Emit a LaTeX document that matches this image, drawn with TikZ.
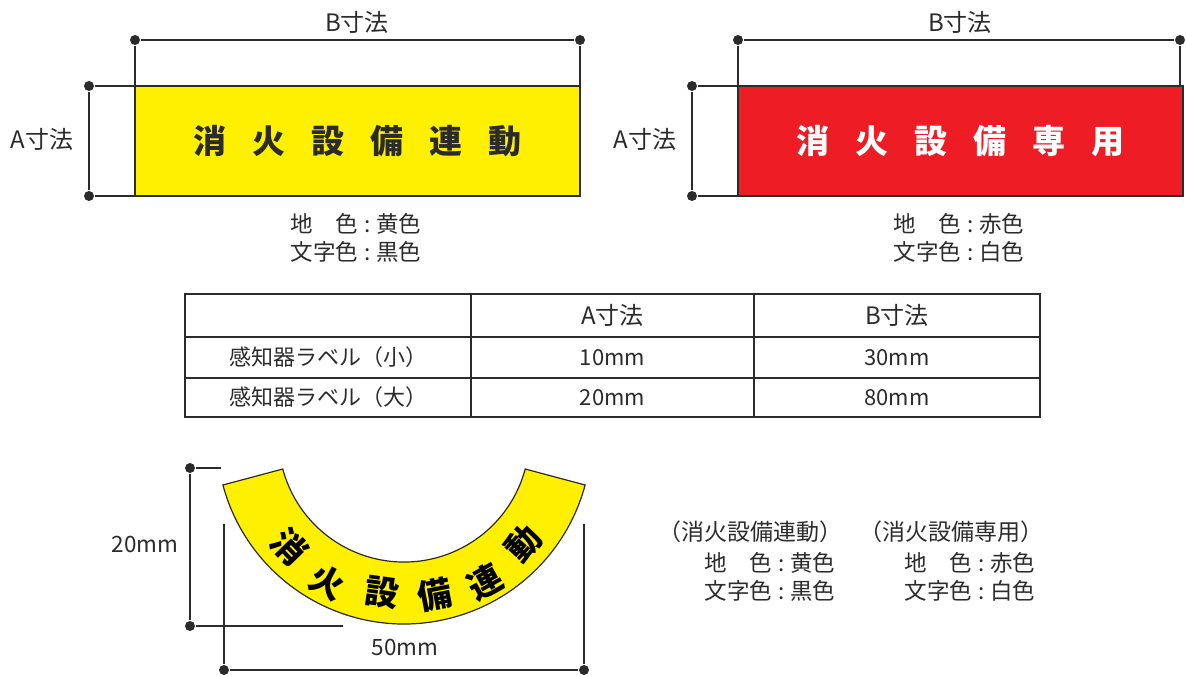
\documentclass[tikz,border=0pt]{standalone}
\usepackage{fontspec}
\setmainfont{Noto Sans CJK JP}
\usetikzlibrary{positioning}
\definecolor{signyellow}{HTML}{FFF000}
\definecolor{signred}{HTML}{EE1C25}
\definecolor{inkgray}{HTML}{2B2B2B}
\tikzset{
    dimdot/.style={circle, fill=inkgray, inner sep=0pt, minimum size=10pt},
    dimtext/.style={font=\fontsize{24}{28}\selectfont, text=inkgray, inner sep=0pt},
    mmtext/.style={font=\fontsize{22.5}{26}\selectfont, text=inkgray, inner sep=0pt},
    notetext/.style={font=\fontsize{22.5}{28}\selectfont, text=inkgray, inner sep=0pt, align=left, anchor=north west},
    titletext/.style={font=\fontsize{23}{26}\selectfont, text=inkgray, inner sep=0pt},
    signbox/.style={draw=inkgray, line width=1.6pt, minimum width=445pt, minimum height=110pt, inner sep=0pt, outer sep=0pt, font=\fontsize{33}{36}\selectfont\bfseries},
    tablecell/.style={draw=inkgray, line width=1.4pt, inner sep=0pt, outer sep=0pt, font=\fontsize{22}{26}\selectfont, text=inkgray},
    arcchar/.style={font=\fontsize{34}{36}\selectfont\bfseries, text=black, inner sep=0pt}
}
\newcommand{\gapchar}{\hskip 26pt}
\newcommand{\notecolon}{\makebox[18pt]{:}}
\begin{document}
\begin{tikzpicture}[x=1pt, y=-1pt, line width=1.6pt, draw=inkgray, node distance=0pt]
    \useasboundingbox (0,0) rectangle (1186,675);

    % yellow sign
    \node[signbox, fill=signyellow, text=inkgray] (ySign) at (357.5,141) {消\gapchar 火\gapchar 設\gapchar 備\gapchar 連\gapchar 動};
    \node[dimdot] (yB1) at (135,40) {};
    \node[dimdot] (yB2) at (580,40) {};
    \node[dimdot] (yA1) at (89,86) {};
    \node[dimdot] (yA2) at (89,196) {};
    \draw (yB1) -- (yB2);
    \draw (yB1) -- (ySign.north west);
    \draw (yB2) -- (ySign.north east);
    \draw (yA1) -- (yA2);
    \draw (yA1) -- (ySign.north west);
    \draw (yA2) -- (ySign.south west);
    \node[dimtext] (yBtext) at (357,22) {B寸法};
    \node[dimtext] (yAtext) at (42,139) {A寸法};
    \node[notetext] (yNote) at (290,213) {地　色\notecolon 黄色\\文字色\notecolon 黒色};

    % red sign
    \node[signbox, fill=signred, text=white] (rSign) at (960.5,141) {消\gapchar 火\gapchar 設\gapchar 備\gapchar 専\gapchar 用};
    \node[dimdot] (rB1) at (738,40) {};
    \node[dimdot] (rB2) at (1180,40) {};
    \node[dimdot] (rA1) at (692,86) {};
    \node[dimdot] (rA2) at (692,196) {};
    \draw (rB1) -- (rB2);
    \draw (rB1) -- (rSign.north west);
    \draw (rB2) -- (rB2 |- rSign.north);
    \draw (rA1) -- (rA2);
    \draw (rA1) -- (rSign.north west);
    \draw (rA2) -- (rSign.south west);
    \node[dimtext] (rBtext) at (960,22) {B寸法};
    \node[dimtext] (rAtext) at (645,139) {A寸法};
    \node[notetext] (rNote) at (893,213) {地　色\notecolon 赤色\\文字色\notecolon 白色};

    % size table
    \node[tablecell, minimum width=286pt, minimum height=43pt, anchor=north west] (hdName) at (185,294) {};
    \node[tablecell, minimum width=283pt, minimum height=43pt, right=of hdName, font=\fontsize{24}{28}\selectfont] (hdA) {A寸法};
    \node[tablecell, minimum width=286pt, minimum height=43pt, right=of hdA, font=\fontsize{24}{28}\selectfont] (hdB) {B寸法};
    \node[tablecell, minimum width=286pt, minimum height=41pt, below=of hdName] (smName) {感知器ラベル（小）};
    \node[tablecell, minimum width=283pt, minimum height=41pt, right=of smName] (smA) {10mm};
    \node[tablecell, minimum width=286pt, minimum height=41pt, right=of smA] (smB) {30mm};
    \node[tablecell, minimum width=286pt, minimum height=39pt, below=of smName] (lgName) {感知器ラベル（大）};
    \node[tablecell, minimum width=283pt, minimum height=39pt, right=of lgName] (lgA) {20mm};
    \node[tablecell, minimum width=286pt, minimum height=39pt, right=of lgA] (lgB) {80mm};

    % curved sign
    \draw[fill=signyellow, line width=1.2pt] (222.9,485) arc[start angle=195, end angle=345, radius=187.5pt]
        -- (525.2,469) arc[start angle=345, end angle=195, radius=125.5pt] -- cycle;
    \foreach \glyph/\xpos/\ypos/\turn [count=\n] in {消/290/547/-46, 火/327/582/-28, 設/382/593/-8, 備/435/595/11, 連/485/582/29, 動/523/543/48}
        \node[arcchar, rotate=\turn] (arc\n) at (\xpos,\ypos) {\glyph};

    \node[dimdot] (cH1) at (190,468) {};
    \node[dimdot] (cH2) at (190,626) {};
    \node[dimdot] (cW1) at (224,670) {};
    \node[dimdot] (cW2) at (584,670) {};
    \coordinate (cH1end) at (221,468);
    \coordinate (cH2end) at (343,626);
    \coordinate (cW1end) at (224,524);
    \coordinate (cW2end) at (584,524);
    \draw (cH1) -- (cH2);
    \draw (cH1) -- (cH1end);
    \draw (cH2) -- (cH2end);
    \draw (cW1) -- (cW2);
    \draw (cW1) -- (cW1end);
    \draw (cW2) -- (cW2end);
    \node[mmtext] (cHtext) at (145,544) {20mm};
    \node[mmtext] (cWtext) at (405,647) {50mm};

    % colour notes
    \node[titletext] (yTitle) at (750,532) {（消火設備連動）};
    \node[notetext] (yNote2) at (704,552) {地　色\notecolon 黄色\\文字色\notecolon 黒色};
    \node[titletext] (rTitle) at (951,532) {（消火設備専用）};
    \node[notetext] (rNote2) at (904,552) {地　色\notecolon 赤色\\文字色\notecolon 白色};
\end{tikzpicture}
\end{document}
